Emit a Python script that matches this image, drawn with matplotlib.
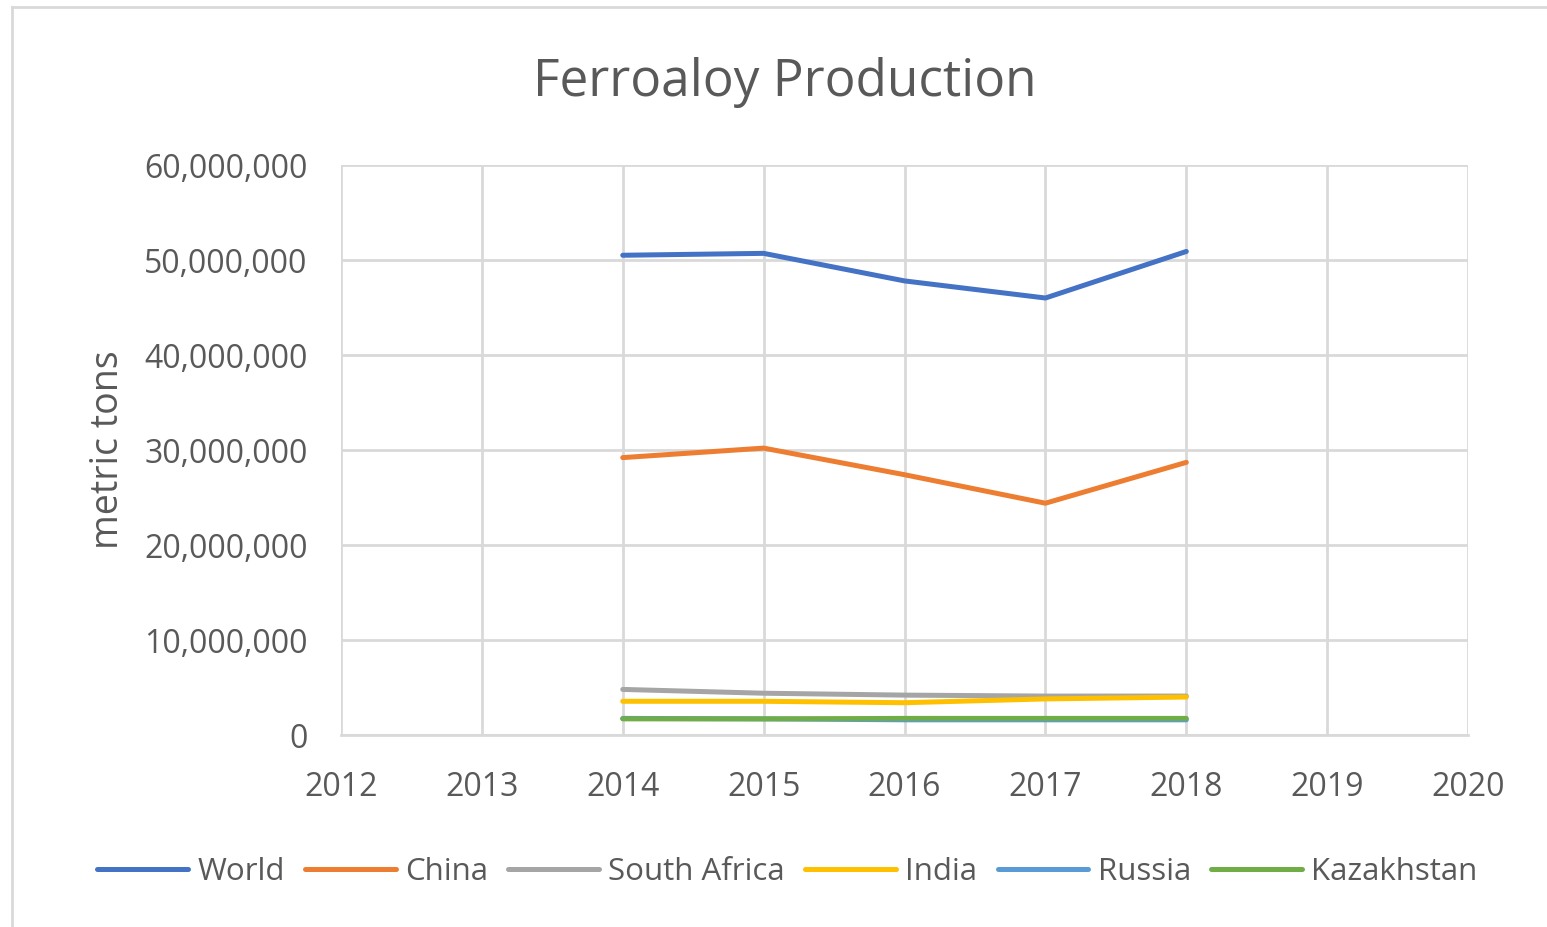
import matplotlib
matplotlib.use("Agg")
import matplotlib.pyplot as plt
from matplotlib.lines import Line2D
from matplotlib.ticker import FuncFormatter

years = [2014, 2015, 2016, 2017, 2018]
world = [50500000, 50700000, 47800000, 46000000, 50900000]
china = [29200000, 30200000, 27400000, 24400000, 28700000]
south_africa = [4800000, 4400000, 4200000, 4100000, 4100000]
india = [3550000, 3550000, 3400000, 3800000, 4000000]
russia = [1750000, 1700000, 1600000, 1600000, 1600000]
kazakhstan = [1700000, 1700000, 1750000, 1750000, 1750000]

series = [
    ("World", world, "#4472C4"),
    ("China", china, "#ED7D31"),
    ("South Africa", south_africa, "#A5A5A5"),
    ("India", india, "#FFC000"),
    ("Russia", russia, "#5B9BD5"),
    ("Kazakhstan", kazakhstan, "#70AD47"),
]

txt = "#595959"
grid = "#D9D9D9"
plt.rcParams["font.family"] = ["Open Sans", "DejaVu Sans"]

fig = plt.figure(figsize=(15.47, 9.27), dpi=100)
ax = fig.add_axes([0.2204, 0.2071, 0.7286, 0.6149])

for name, vals, col in series:
    ax.plot(years, vals, color=col, linewidth=3.6, label=name,
            solid_capstyle="round")

ax.set_xlim(2012, 2020)
ax.set_ylim(0, 60000000)
ax.set_xticks(range(2012, 2021))
ax.set_yticks(range(0, 60000001, 10000000))
ax.yaxis.set_major_formatter(FuncFormatter(lambda v, p: f"{int(v):,}"))
ax.grid(True, color=grid, linewidth=2)
ax.set_axisbelow(True)
for s in ax.spines.values():
    s.set_visible(False)
ax.spines["bottom"].set_visible(True)
ax.spines["bottom"].set_color(grid)
ax.spines["bottom"].set_linewidth(2)
ax.tick_params(length=0, labelsize=23, labelcolor=txt)
ax.tick_params(axis="x", pad=26)
ax.tick_params(axis="y", pad=24)
ax.set_ylabel("metric tons", fontsize=27, color=txt, labelpad=12)

fig.text(0.507, 0.911, "Ferroaloy Production", ha="center", va="center",
         fontsize=37, color=txt)

ax.legend(loc="center", bbox_to_anchor=(0.509, 0.059),
          bbox_transform=fig.transFigure, ncol=6, frameon=False,
          fontsize=22.5, labelcolor=txt, handlelength=2.9, handletextpad=0.3,
          columnspacing=0.65)

# outer chart border (left and top)
fig.add_artist(Line2D([0.0078, 0.0078], [0.0, 0.9925], color=grid,
                      linewidth=2, transform=fig.transFigure))
fig.add_artist(Line2D([0.0078, 1.0], [0.9925, 0.9925], color=grid,
                      linewidth=2, transform=fig.transFigure))

fig.savefig("out.png", dpi=100, facecolor="white")
